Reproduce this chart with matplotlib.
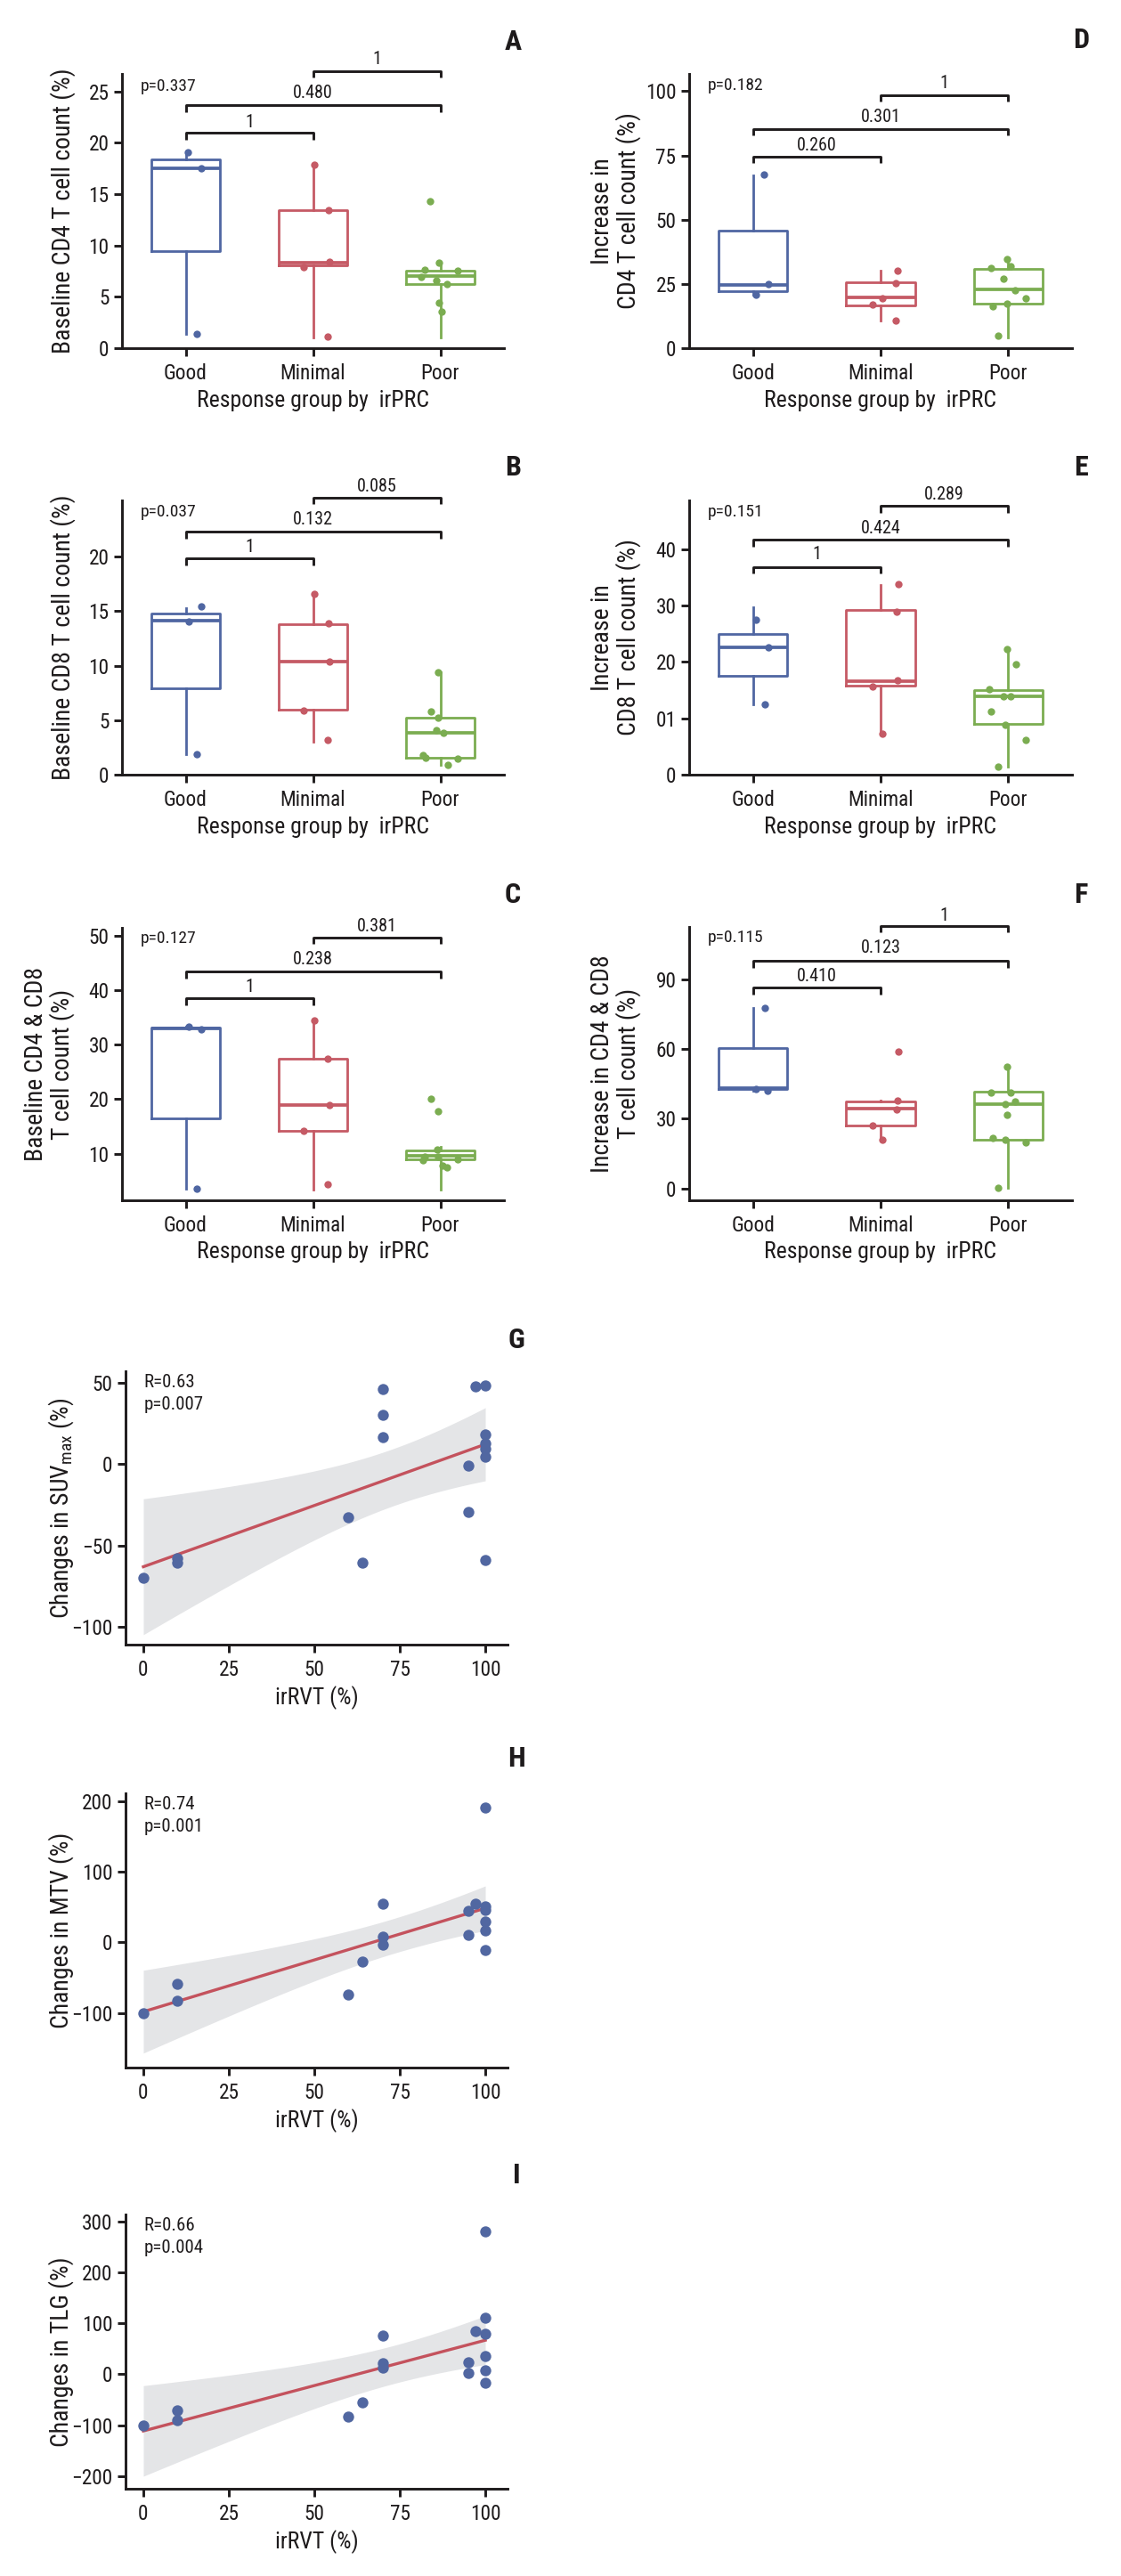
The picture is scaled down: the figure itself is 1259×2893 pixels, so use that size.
import matplotlib
matplotlib.use('Agg')  # no display
import matplotlib.pyplot as plt
from matplotlib import font_manager as fm
import numpy as np

# ---------------- data ----------------
groups = ['Good', 'Minimal', 'Poor']
colors = ['#4F66A2', '#C55A65', '#7BAD51']

# box stats per group: whisker low, q1, median, q3, whisker high
a_stats = [[1.36, 9.46, 17.5, 18.37, 19.1], [1.07, 8.02, 8.3, 13.43, 17.86], [1.07, 6.22, 7.0, 7.58, 8.36]]
b_stats = [[1.91, 7.9, 14.09, 14.77, 15.3], [3.05, 5.94, 10.41, 13.84, 16.54], [0.87, 1.58, 3.87, 5.26, 9.4]]
c_stats = [[3.6, 16.5, 32.98, 33.14, 33.25], [3.43, 14.1, 18.94, 27.43, 34.5], [3.43, 8.87, 9.58, 10.56, 11.2]]
d_stats = [[20.7, 22.2, 24.5, 45.8, 67.1], [10.9, 16.8, 19.6, 25.7, 30.3], [4.3, 17.4, 23.0, 30.9, 34.6]]
e_stats = [[12.4, 17.5, 22.5, 25.0, 29.6], [7.3, 15.8, 16.5, 29.2, 33.6], [1.47, 8.95, 13.95, 15.0, 22.3]]
f_stats = [[41.9, 42.8, 43.3, 60.5, 77.6], [21.1, 27.1, 34.2, 37.4, 37.7], [0.4, 21.1, 36.4, 41.7, 52.3]]

# individual patients (values) and their horizontal jitter
a_pts = [[19.1, 17.5, 1.36], [17.86, 13.4, 8.45, 7.87, 1.16],
         [14.3, 8.36, 7.64, 6.95, 7.5, 6.57, 6.28, 4.4, 3.53]]
a_jit = [[0.02, 0.12, 0.09], [0.01, 0.12, 0.13, -0.07, 0.115],
         [-0.08, -0.01, -0.12, -0.15, 0.135, -0.03, 0.05, -0.01, 0.01]]
b_pts = [[15.4, 14.03, 1.91], [16.54, 13.9, 10.35, 5.86, 3.19],
         [9.4, 5.78, 5.23, 4.09, 3.87, 1.83, 1.58, 1.44, 0.9]]
b_jit = [[0.12, 0.023, 0.09], [0.01, 0.12, 0.13, -0.07, 0.115],
         [-0.014, -0.076, -0.014, -0.034, 0.023, -0.138, -0.115, 0.135, 0.056]]
c_pts = [[33.25, 32.87, 3.59], [34.5, 27.4, 19.0, 14.1, 4.4],
         [20.1, 17.7, 10.8, 9.4, 8.76, 9.0, 9.4, 7.8, 7.4]]
c_jit = [[0.023, 0.12, 0.09], [0.01, 0.113, 0.13, -0.07, 0.115],
         [-0.076, -0.014, -0.025, -0.124, -0.138, 0.135, -0.014, 0.014, 0.051]]
d_pts = [[67.4, 24.8, 20.7], [30.3, 25.3, 19.3, 17.0, 10.9],
         [34.6, 31.8, 31.1, 27.1, 22.6, 19.3, 17.4, 16.2, 4.9]]
d_jit = [[0.085, 0.124, 0.023], [0.13, 0.12, 0.014, -0.062, 0.12],
         [-0.01, 0.017, -0.135, -0.034, 0.054, 0.138, -0.01, -0.124, -0.076]]
e_pts = [[27.4, 22.5, 12.5], [33.7, 28.9, 16.7, 15.7, 7.26],
         [22.3, 19.5, 15.1, 13.9, 13.9, 11.2, 8.9, 6.2, 1.47]]
e_jit = [[0.023, 0.124, 0.096], [0.14, 0.124, 0.13, -0.062, 0.014],
         [-0.01, 0.06, -0.146, -0.034, 0.017, -0.132, -0.02, 0.138, -0.082]]
f_pts = [[77.6, 43.0, 41.9], [59.1, 37.7, 34.1, 27.1, 21.1],
         [52.3, 41.2, 41.2, 37.3, 36.3, 31.8, 21.7, 20.8, 20.0, 0.4]]
f_jit = [[0.09, 0.023, 0.113], [0.138, 0.132, 0.124, -0.062, 0.014],
         [-0.01, -0.135, 0.017, 0.056, -0.02, -0.01, -0.118, -0.02, 0.138, -0.076]]

# pairwise comparisons: (group i, group j, bracket height, label, label height)
a_pairs = [(1, 2, 20.95, '1', 22.0), (1, 3, 23.64, '0.480', 24.8), (2, 3, 26.97, '1', 28.1)]
b_pairs = [(1, 2, 19.84, '1', 20.84), (1, 3, 22.29, '0.132', 23.38), (2, 3, 25.4, '0.085', 26.4)]
c_pairs = [(1, 2, 38.5, '1', 40.6), (1, 3, 43.4, '0.238', 45.7), (2, 3, 49.7, '0.381', 51.7)]
d_pairs = [(1, 2, 74.5, '0.260', 78.9), (1, 3, 85.3, '0.301', 89.9), (2, 3, 98.4, '1', 102.9)]
e_pairs = [(1, 2, 36.8, '1', 39.05), (1, 3, 41.6, '0.424', 43.7), (2, 3, 47.6, '0.289', 49.7)]
f_pairs = [(1, 2, 86.4, '0.410', 91.5), (1, 3, 98.0, '0.123', 103.4), (2, 3, 113.0, '1', 117.5)]

kw_p = {'A': 'p=0.337', 'B': 'p=0.037', 'C': 'p=0.127', 'D': 'p=0.182', 'E': 'p=0.151', 'F': 'p=0.115'}
kw_y = {'A': 25.5, 'B': 24.1, 'C': 49.6, 'D': 102.1, 'E': 46.6, 'F': 107.9}

ylabels = {
    'A': 'Baseline CD4 T cell count (%)',
    'B': 'Baseline CD8 T cell count (%)',
    'C': 'Baseline CD4 & CD8\nT cell count (%)',
    'D': 'Increase in\nCD4 T cell count (%)',
    'E': 'Increase in\nCD8 T cell count (%)',
    'F': 'Increase in CD4 & CD8\nT cell count (%)',
}
box_ylims = {'A': (0, 26.7), 'B': (0, 25.15), 'C': (1.41, 51.5), 'D': (0, 106.7), 'E': (0, 48.6), 'F': (-5.1, 112.6)}
box_yticks = {'A': [0, 5, 10, 15, 20, 25], 'B': [0, 5, 10, 15, 20], 'C': [10, 20, 30, 40, 50],
              'D': [0, 25, 50, 75, 100], 'E': [0, 10, 20, 30, 40], 'F': [0, 30, 60, 90]}
e_ticklabels = ['0', '01', '20', '30', '40']   # as printed in the figure

# irRVT vs PET changes
g_x = [70, 97, 100, 70, 70, 100, 100, 100, 100, 95, 60, 95, 64, 100, 10, 10, 0]
g_y = [45.9, 47.6, 48.1, 30.2, 16.7, 18.1, 13.0, 9.3, 4.6, -1.1, -32.8, -29.3, -60.6, -58.9, -57.8, -60.5, -70.0]
h_x = [100, 70, 97, 100, 95, 100, 100, 100, 95, 70, 70, 100, 64, 60, 10, 10, 0]
h_y = [191.4, 54.7, 54.7, 51.3, 44.2, 46.3, 29.4, 16.8, 10.5, 7.6, -2.9, -10.5, -27.3, -73.6, -58.9, -82.0, -100.1]
i_x = [100, 100, 97, 100, 70, 100, 70, 70, 95, 95, 100, 100, 64, 60, 10, 10, 0]
i_y = [280.9, 110.7, 83.9, 79.8, 75.8, 35.0, 22.1, 13.4, 23.3, 1.7, 7.0, -16.3, -55.9, -82.2, -71.1, -89.2, -100.2]
corr_txt = {'G': ('R=0.63', 'p=0.007'), 'H': ('R=0.74', 'p=0.001'), 'I': ('R=0.66', 'p=0.004')}

# ---------------- fonts ----------------
def find_font(bold):
    prefs = ['Liberation Sans Narrow', 'Roboto Condensed', 'Open Sans Condensed',
             'Noto Sans Condensed', 'DejaVu Sans Condensed']
    fl = fm.fontManager.ttflist

    def wt(f):
        w = f.weight
        return w if isinstance(w, (int, float)) else fm.weight_dict.get(w, 400)
    for name in prefs:
        for f in fl:
            if f.name == name and f.style == 'normal' and (wt(f) >= 600) == bold:
                return f.fname
    for f in fl:
        nm = f.fname.lower()
        if ('condensed' in str(f.stretch) or 'narrow' in nm or 'condensed' in nm) \
                and f.style == 'normal' and (wt(f) >= 600) == bold:
            return f.fname
    return None


REG = find_font(False)
BOLD = find_font(True) or REG


def fp(size, bold=False):
    path = BOLD if bold else REG
    if path:
        return fm.FontProperties(fname=path, size=size)
    return fm.FontProperties(family='Liberation Sans', weight='bold' if bold else 'normal', size=size)


if REG:
    plt.rcParams['mathtext.fontset'] = 'custom'
    plt.rcParams['mathtext.rm'] = fm.FontProperties(fname=REG).get_name()

INK = '#1e1b1c'
W, H = 1259, 2893
fig = plt.figure(figsize=(W / 100, H / 100), dpi=100)
fig.patch.set_facecolor('white')


def rect(l, r, t, b):
    return [l / W, 1 - b / H, (r - l) / W, (b - t) / H]


def style_axes(ax):
    for s in ['top', 'right']:
        ax.spines[s].set_visible(False)
    for s in ['left', 'bottom']:
        ax.spines[s].set_linewidth(2.1)
        ax.spines[s].set_color(INK)
    ax.tick_params(length=6.5, width=2.1, color=INK, labelcolor=INK)
    ax.tick_params(axis='y', pad=4)
    ax.tick_params(axis='x', pad=5.5)


def box_panel(key, box, stats, pts, jit, pairs, ylab_x):
    ax = fig.add_axes(rect(*box))
    ylim = box_ylims[key]
    bxs = [dict(whislo=s[0], q1=s[1], med=s[2], q3=s[3], whishi=s[4], fliers=[]) for s in stats]
    art = ax.bxp(bxs, positions=[1, 2, 3], widths=0.54, showcaps=False, showfliers=False,
                 manage_ticks=False)
    for i, c in enumerate(colors):
        art['boxes'][i].set(color=c, linewidth=2.0)
        art['medians'][i].set(color=c, linewidth=2.7)
        for w in art['whiskers'][2 * i:2 * i + 2]:
            w.set(color=c, linewidth=2.0)
        ax.scatter(np.array(jit[i]) + i + 1, pts[i], s=36, color=c, linewidths=0,
                   zorder=4, clip_on=False)
    ax.set_xlim(0.5, 3.5)
    ax.set_ylim(*ylim)
    ax.set_xticks([1, 2, 3])
    ax.set_xticklabels(groups)
    ax.set_yticks(box_yticks[key])
    if key == 'E':
        ax.set_yticklabels(e_ticklabels)
    style_axes(ax)
    for t in ax.get_xticklabels() + ax.get_yticklabels():
        t.set_fontproperties(fp(16.8))

    # significance brackets
    ax_h = box[3] - box[2]
    drop = 7.5 * (ylim[1] - ylim[0]) / ax_h
    for i, j, y, lab, ly in pairs:
        ax.plot([i, i, j, j], [y - drop, y, y, y - drop], color=INK, lw=2.1,
                clip_on=False, solid_capstyle='butt')
        ax.text((i + j) / 2, ly, lab, ha='center', va='center', color=INK,
                fontproperties=fp(14.5))
    ax.text(0.645, kw_y[key], kw_p[key], ha='left', va='center', color=INK,
            fontproperties=fp(14))

    ax.set_xlabel('Response group by  irPRC', fontproperties=fp(18.5), color=INK, va='center')
    ax.xaxis.set_label_coords(0.5, -0.19)
    ax.set_ylabel(ylabels[key], fontproperties=fp(20), color=INK, va='center',
                  linespacing=1.05)
    ax.yaxis.set_label_coords(ylab_x, 0.5)
    return ax


def scatter_panel(key, box, x, y, ylim, yticks, ylabel):
    ax = fig.add_axes(rect(*box))
    x = np.array(x, float)
    y = np.array(y, float)
    # least squares fit with 95% confidence band
    b1, b0 = np.polyfit(x, y, 1)
    xs = np.linspace(x.min(), x.max(), 100)
    n = len(x)
    resid = y - (b0 + b1 * x)
    s = np.sqrt(np.sum(resid ** 2) / (n - 2))
    se = s * np.sqrt(1 / n + (xs - x.mean()) ** 2 / np.sum((x - x.mean()) ** 2))
    tcrit = 2.131  # t(0.975, df=15)
    fit = b0 + b1 * xs
    ax.fill_between(xs, fit - tcrit * se, fit + tcrit * se, color='#E4E5E7', lw=0, zorder=1)
    ax.plot(xs, fit, color='#C4525D', lw=2.4, zorder=2)
    ax.scatter(x, y, s=80, color='#5167A1', linewidths=0, zorder=3, clip_on=False)
    ax.set_xlim(-5.2, 106.5)
    ax.set_ylim(*ylim)
    ax.set_xticks([0, 25, 50, 75, 100])
    ax.set_yticks(yticks)
    style_axes(ax)
    for t in ax.get_xticklabels() + ax.get_yticklabels():
        t.set_fontproperties(fp(16.8))
    r_txt, p_txt = corr_txt[key]
    ax.text(0.048, 0.958, r_txt, transform=ax.transAxes, ha='left', va='center',
            color=INK, fontproperties=fp(15))
    ax.text(0.048, 0.878, p_txt, transform=ax.transAxes, ha='left', va='center',
            color=INK, fontproperties=fp(15))
    ax.set_xlabel('irRVT (%)', fontproperties=fp(18.5), color=INK, va='center')
    ax.xaxis.set_label_coords(0.5, -0.195)
    ax.set_ylabel(ylabel, fontproperties=fp(20), color=INK, va='center')
    ax.yaxis.set_label_coords(-0.168, 0.5)
    return ax


# left, right, top, bottom in pixels
box_panel('A', (137, 566, 83, 391), a_stats, a_pts, a_jit, a_pairs, -0.154)
box_panel('B', (137, 566, 562, 870), b_stats, b_pts, b_jit, b_pairs, -0.154)
box_panel('C', (137, 566, 1042, 1348), c_stats, c_pts, c_jit, c_pairs, -0.19)
box_panel('D', (774, 1204, 83, 391), d_stats, d_pts, d_jit, d_pairs, -0.192)
box_panel('E', (774, 1204, 562, 870), e_stats, e_pts, e_jit, e_pairs, -0.192)
box_panel('F', (774, 1204, 1041, 1348), f_stats, f_pts, f_jit, f_pairs, -0.192)

scatter_panel('G', (141, 570, 1540, 1847), g_x, g_y, (-110.9, 57.1), [-100, -50, 0, 50],
              r'Changes in SUV$_{\mathrm{max}}$ (%)')
scatter_panel('H', (141, 570, 2014, 2322), h_x, h_y, (-177, 211), [-100, 0, 100, 200],
              'Changes in MTV (%)')
scatter_panel('I', (141, 570, 2487, 2795), i_x, i_y, (-224.5, 313.4), [-200, -100, 0, 100, 200, 300],
              'Changes in TLG (%)')

# panel letters
letters = [('A', 576, 47), ('B', 576, 525), ('C', 576, 1005), ('D', 1214, 45), ('E', 1214, 525),
           ('F', 1214, 1005), ('G', 580, 1505), ('H', 580, 1975), ('I', 580, 2443)]
for lab, px, py in letters:
    fig.text(px / W, 1 - py / H, lab, ha='center', va='center', color=INK, fontproperties=fp(23, True))

fig.savefig('out.png', dpi=100)
plt.close(fig)
